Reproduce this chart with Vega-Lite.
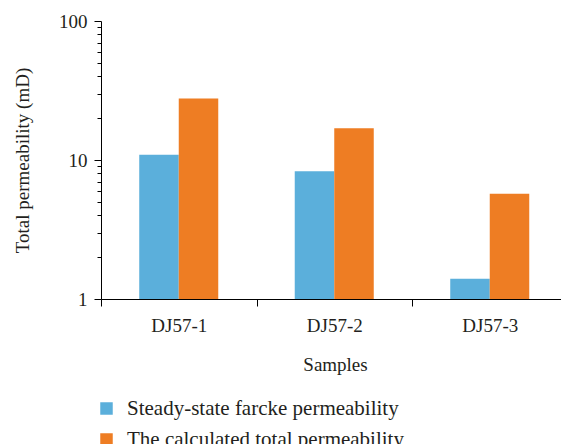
{
  "$schema": "https://vega.github.io/schema/vega-lite/v6.json",
  "width": 460,
  "height": 278,
  "autosize": {"type": "none"},
  "padding": {"left": 101, "top": 21, "right": 0, "bottom": 145},
  "background": "white",
  "data": {
    "values": [
      {"sample": "DJ57-1", "series": "Steady-state farcke permeability", "value": 10.9},
      {"sample": "DJ57-1", "series": "The calculated total permeability", "value": 27.7},
      {"sample": "DJ57-2", "series": "Steady-state farcke permeability", "value": 8.3},
      {"sample": "DJ57-2", "series": "The calculated total permeability", "value": 16.9},
      {"sample": "DJ57-3", "series": "Steady-state farcke permeability", "value": 1.4},
      {"sample": "DJ57-3", "series": "The calculated total permeability", "value": 5.72}
    ]
  },
  "mark": {"type": "bar"},
  "encoding": {
    "x": {
      "field": "sample",
      "type": "nominal",
      "scale": {"paddingInner": 0, "paddingOuter": 0, "range": [0, 466.5]},
      "axis": {
        "title": "Samples",
        "labelAngle": 0,
        "tickBand": "extent",
        "tickSize": 7,
        "labelPadding": 10,
        "titleX": 234,
        "titleY": 71,
        "titleBaseline": "alphabetic"
      }
    },
    "xOffset": {
      "field": "series",
      "type": "nominal",
      "scale": {"paddingInner": 0, "paddingOuter": 0.968}
    },
    "y": {
      "field": "value",
      "type": "quantitative",
      "scale": {"type": "log", "domain": [1, 100], "nice": false},
      "axis": {
        "title": "Total permeability (mD)",
        "values": [1, 2, 3, 4, 5, 6, 7, 8, 9, 10, 20, 30, 40, 50, 60, 70, 80, 90, 100],
        "labelExpr": "datum.value == 1 ? '1' : datum.value == 10 ? '10' : datum.value == 100 ? '100' : ''",
        "tickSize": {"condition": {"test": "datum.value == 1 || datum.value == 10 || datum.value == 100", "value": 7}, "value": 4},
        "labelPadding": 7,
        "labelOverlap": false,
        "labelFlush": false,
        "labelBound": false,
        "grid": false,
        "titleX": -73,
        "titleY": 139,
        "titleBaseline": "alphabetic",
        "titleAlign": "center"
      }
    },
    "y2": {"datum": 1},
    "color": {
      "field": "series",
      "type": "nominal",
      "scale": {
        "domain": ["Steady-state farcke permeability", "The calculated total permeability"],
        "range": ["#5BAFDB", "#EE7D23"]
      },
      "legend": {
        "title": null,
        "orient": "none",
        "legendX": -5,
        "legendY": 377,
        "symbolType": "square",
        "symbolSize": 156,
        "symbolStrokeWidth": 0,
        "labelFontSize": 21,
        "labelOffset": 10,
        "rowPadding": 9,
        "padding": 0
      }
    }
  },
  "config": {
    "font": "Liberation Serif",
    "view": {"stroke": null},
    "axis": {
      "domainColor": "#000000",
      "tickColor": "#000000",
      "domainWidth": 1,
      "tickWidth": 1,
      "labelFont": "Liberation Serif",
      "titleFont": "Liberation Serif",
      "labelFontSize": 19,
      "titleFontSize": 19,
      "labelColor": "#231F20",
      "titleColor": "#231F20",
      "titleFontWeight": "normal"
    },
    "legend": {
      "labelFont": "Liberation Serif",
      "labelColor": "#231F20",
      "labelLimit": 0
    }
  }
}
